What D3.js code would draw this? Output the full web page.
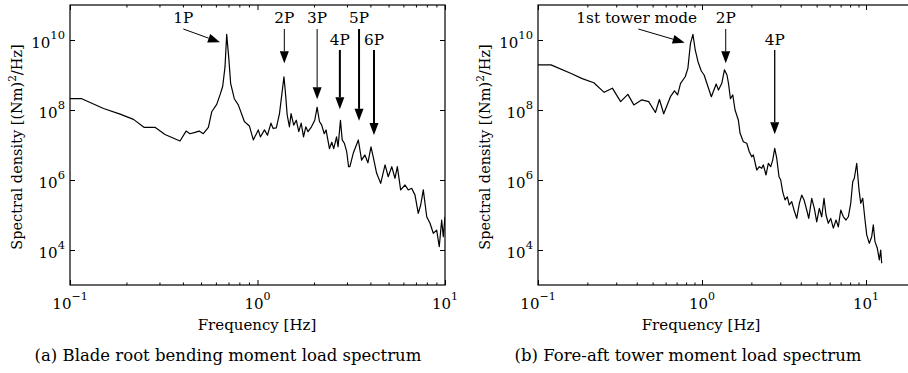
<!DOCTYPE html>
<html><head><meta charset="utf-8">
<script src="https://cdn.jsdelivr.net/npm/d3@7"></script>
<style>
html,body{margin:0;padding:0;background:#fff;}
svg{display:block;font-family:"DejaVu Serif",serif;}
</style></head><body>
<svg id="chart" width="908" height="373"></svg>
<script>
// ---------- data ----------
const bladeFreq = [0.1,0.1155,0.151,0.185,0.218,0.248,0.284,0.321,0.386,0.416,0.436,0.464,0.488,0.514,0.547,0.57,0.606,0.631,0.652,0.671,0.685,0.702,0.719,0.752,0.79,0.851,0.905,0.95,1.01,1.036,1.09,1.13,1.18,1.21,1.26,1.31,1.384,1.41,1.44,1.48,1.51,1.56,1.61,1.66,1.71,1.76,1.81,1.86,1.94,2.02,2.08,2.14,2.20,2.27,2.32,2.42,2.49,2.55,2.64,2.69,2.77,2.83,2.91,2.99,3.06,3.11,3.24,3.45,3.59,3.74,3.88,4.03,4.13,4.32,4.54,4.79,4.98,5.20,5.41,5.57,5.80,6.12,6.37,6.64,6.92,7.20,7.42,7.66,7.99,8.32,8.66,9.03,9.32,9.60,9.79,10.0];
const bladePSD = [2.1e8,2.1e8,1.1e8,7.6e7,5.4e7,3.2e7,3.2e7,2.0e7,1.3e7,2.5e7,2.1e7,2.3e7,2.5e7,2.1e7,3.2e7,8.9e7,1.45e8,2.7e8,4.7e8,1.7e9,1.45e10,3.3e9,5.8e8,2.1e8,1.4e8,4.7e7,3.5e7,1.4e7,2.7e7,1.7e7,2.7e7,1.9e7,4.2e7,3.0e7,3.1e7,7.9e7,8.9e8,3.0e8,7.2e7,3.3e7,7.9e7,3.7e7,5.1e7,2.4e7,4.2e7,1.7e7,3.3e7,2.4e7,3.3e7,5.1e7,1.2e8,4.7e7,3.7e7,2.1e7,2.7e7,7.9e6,1.2e7,7.9e6,1.7e7,8.9e6,5.1e7,1.4e7,1.1e7,6.5e6,2.4e6,2.4e6,5.8e6,1.39e7,3.7e6,5.2e6,3.1e6,8.8e6,4.9e6,1.55e6,8.0e5,2.7e6,1.24e6,2.4e6,1.12e6,2.4e6,5.2e5,7.2e5,5.2e5,5.8e5,3.7e5,1.12e5,1.93e5,5.2e5,8.9e4,5.8e4,3.0e4,3.7e4,1.24e4,7.2e4,2.4e4,8.9e4];

const towerFreq = [0.1,0.12,0.158,0.186,0.219,0.253,0.284,0.319,0.353,0.384,0.43,0.473,0.52,0.55,0.584,0.642,0.679,0.71,0.74,0.79,0.82,0.85,0.88,0.91,0.945,0.99,1.03,1.08,1.14,1.22,1.26,1.32,1.37,1.42,1.45,1.49,1.54,1.59,1.665,1.705,1.786,1.874,1.943,2.009,2.055,2.156,2.236,2.312,2.365,2.456,2.537,2.624,2.698,2.775,2.854,2.948,3.019,3.105,3.207,3.312,3.406,3.524,3.639,3.780,3.921,4.055,4.188,4.349,4.473,4.666,4.840,5.005,5.190,5.368,5.544,5.702,5.889,6.092,6.318,6.562,6.779,7.012,7.273,7.551,7.800,8.067,8.297,8.486,8.776,9.064,9.284,9.548,9.86,10.1,10.47,10.83,11.08,11.34,11.72,12.05,12.29,12.46];
const towerPSD = [1.95e9,1.95e9,1.12e9,7.9e8,6.0e8,3.2e8,4.2e8,1.74e8,2.8e8,1.4e8,1.95e8,1.74e8,8.5e7,2.0e8,7.8e7,2.4e8,3.5e8,2.7e8,5.8e8,8.9e8,1.55e9,7.9e9,1.45e10,5.1e9,2.4e9,1.3e9,1.0e9,5.1e8,2.4e8,5.5e8,3.7e8,5.8e8,1.4e9,1.0e9,5.8e8,2.1e8,2.7e8,1.0e8,5.2e7,2.2e7,1.24e7,1.12e7,6.4e6,4.6e6,5.2e6,1.93e6,2.4e6,2.16e6,2.7e6,1.39e6,3.0e6,2.4e6,3.7e6,8.0e6,4.2e6,1.24e6,1.0e6,4.6e5,2.7e5,3.3e5,1.93e5,2.4e5,1.39e5,8.0e4,2.16e5,3.7e5,2.7e5,1.39e5,8.0e4,3.0e5,1.55e5,6.4e4,1.55e5,8.9e4,3.0e5,1.0e5,5.8e4,8.0e4,4.2e4,7.2e4,4.6e4,1.39e5,8.9e4,7.2e4,8.9e4,2.16e5,8.9e5,1.12e6,3.0e6,5.2e5,2.16e5,3.0e5,7.2e4,2.7e4,1.55e4,2.4e4,5.2e4,1.73e4,1.12e4,5.2e3,1.0e4,4.2e3];

const xTickValues = [0.1, 1, 10];
const xTickExponents = ["\u22121", "0", "1"];
const yTickValues = [1e4, 1e6, 1e8, 1e10];
const yTickExponents = ["4", "6", "8", "10"];

// annotations (data units)
const bladeAnnoLabels = ["1P", "2P", "3P", "4P", "5P", "6P"];
const bladeAnnoLabelF = [0.402, 1.39, 2.08, 2.75, 3.48, 4.18];
const bladeAnnoLabelP = [3.16e10, 3.16e10, 3.16e10, 7.2e9, 3.16e10, 7.2e9];
const bladeAnnoTailP = [2.06e10, 2.06e10, 2.06e10, 5.2e9, 2.06e10, 5.2e9];
const bladeAnnoTipF = [0.631, 1.39, 2.08, 2.75, 3.48, 4.18];
const bladeAnnoTipP = [8.6e9, 2.16e9, 2.02e8, 1.05e8, 4.9e7, 1.93e7];
const bladeAnnoWidth = [1, 1, 1, 2, 2, 2];

const towerAnnoLabels = ["1st tower mode", "2P", "4P"];
const towerAnnoLabelF = [0.4, 1.395, 2.775];
const towerAnnoLabelP = [3.16e10, 3.16e10, 7.2e9];
const towerAnnoTailP = [2.06e10, 2.06e10, 5.2e9];
const towerAnnoTailF = [0.409, 1.395, 2.775];
const towerAnnoTipF = [0.784, 1.395, 2.775];
const towerAnnoTipP = [8.4e9, 2.16e9, 2.02e7];
const towerAnnoWidth = [1, 1, 1.3];

const captions = ["(a) Blade root bending moment load spectrum", "(b) Fore-aft tower moment load spectrum"];

// ---------- drawing ----------
const svg = d3.select("#chart");
const yDomain = [1e3, 1e11];

function minorTicks(domain) {
  const out = [];
  for (let dec = 0.1; dec < domain[1]; dec *= 10) {
    for (let k = 2; k <= 9; k++) {
      const v = +(k * dec).toPrecision(3);
      if (v > domain[0] && v < domain[1]) out.push(v);
    }
  }
  return out;
}

function drawPanel(cfg) {
  const g = svg.append("g");
  const x = d3.scaleLog().domain(cfg.xDomain).range(cfg.xRange);
  const y = d3.scaleLog().domain(yDomain).range([285, 5]);
  const [x0, x1] = cfg.xRange;
  const [yb, yt] = y.range();

  const clipId = "clip" + cfg.id;
  g.append("clipPath").attr("id", clipId).append("rect")
    .attr("x", x0).attr("y", yt).attr("width", x1 - x0).attr("height", yb - yt);

  const strip = sel => { sel.select(".domain").remove(); sel.selectAll("line").attr("stroke", "#000").attr("stroke-width", 1); };
  const minors = minorTicks(cfg.xDomain);
  g.append("g").attr("transform", `translate(0,${yb})`)
    .call(d3.axisBottom(x).tickValues(xTickValues).tickSize(-5).tickFormat("")).call(strip);
  g.append("g").attr("transform", `translate(0,${yb})`)
    .call(d3.axisBottom(x).tickValues(minors).tickSize(-2.5).tickFormat("")).call(strip);
  g.append("g").attr("transform", `translate(0,${yt})`)
    .call(d3.axisTop(x).tickValues(xTickValues).tickSize(-5).tickFormat("")).call(strip);
  g.append("g").attr("transform", `translate(0,${yt})`)
    .call(d3.axisTop(x).tickValues(minors).tickSize(-2.5).tickFormat("")).call(strip);
  g.append("g").attr("transform", `translate(${x0},0)`)
    .call(d3.axisLeft(y).tickValues(yTickValues).tickSize(-5).tickFormat("")).call(strip);
  g.append("g").attr("transform", `translate(${x1},0)`)
    .call(d3.axisRight(y).tickValues(yTickValues).tickSize(-5).tickFormat("")).call(strip);

  g.append("rect").attr("x", x0).attr("y", yt).attr("width", x1 - x0).attr("height", yb - yt)
    .attr("fill", "none").attr("stroke", "#000").attr("stroke-width", 1.2);

  xTickValues.forEach((v, i) => {
    const t = g.append("text").attr("x", x(v)).attr("y", yb + 23.5).attr("text-anchor", "middle")
      .attr("font-size", 15).attr("fill", "#000");
    t.append("tspan").text("10");
    t.append("tspan").attr("dy", -8.5).attr("font-size", 11).text(xTickExponents[i]);
  });
  yTickValues.forEach((v, i) => {
    const t = g.append("text").attr("x", x0 - 5).attr("y", y(v) + 8).attr("text-anchor", "end")
      .attr("font-size", 15).attr("fill", "#000");
    t.append("tspan").text("10");
    t.append("tspan").attr("dy", -9).attr("font-size", 11.5).text(yTickExponents[i]);
  });

  g.append("text").attr("x", cfg.titleX).attr("y", 330).attr("text-anchor", "middle")
    .attr("font-size", 15).text("Frequency [Hz]");
  const yl = g.append("text").attr("transform", `translate(${x0 - 48},${(yb + yt) / 2 + 2}) rotate(-90)`)
    .attr("text-anchor", "middle").attr("font-size", 14.5);
  yl.append("tspan").text("Spectral density [(Nm)");
  yl.append("tspan").attr("dy", -6).attr("font-size", 10.5).text("2");
  yl.append("tspan").attr("dy", 6).text("/Hz]");

  g.append("text").attr("x", cfg.captionX).attr("y", 361).attr("text-anchor", "middle")
    .attr("font-size", 16.5).text(cfg.caption);

  const pts = cfg.freq.map((f, i) => [f, cfg.psd[i]]);
  g.append("path").datum(pts).attr("clip-path", `url(#${clipId})`)
    .attr("fill", "none").attr("stroke", "#000").attr("stroke-width", 1.2).attr("stroke-linejoin", "round")
    .attr("d", d3.line().x(d => x(d[0])).y(d => y(d[1])));

  cfg.anno.labels.forEach((lab, i) => {
    const lx = x(cfg.anno.labelF[i]), ly = y(cfg.anno.labelP[i]);
    g.append("text").attr("x", lx).attr("y", ly).attr("text-anchor", "middle").attr("font-size", 15.3).text(lab);
    const tx = x(cfg.anno.tailF[i]), ty = y(cfg.anno.tailP[i]);
    const hx = x(cfg.anno.tipF[i]), hy = y(cfg.anno.tipP[i]);
    const dx = hx - tx, dy = hy - ty, L = Math.hypot(dx, dy), ux = dx / L, uy = dy / L;
    const hl = 12, hw = 4.5;
    const bx = hx - ux * hl, by = hy - uy * hl;
    g.append("line").attr("x1", tx).attr("y1", ty).attr("x2", bx).attr("y2", by)
      .attr("stroke", "#000").attr("stroke-width", cfg.anno.width[i]);
    g.append("path").attr("fill", "#000")
      .attr("d", `M${hx},${hy}L${bx - uy * hw},${by + ux * hw}L${bx + uy * hw},${by - ux * hw}Z`);
  });
}

drawPanel({
  id: "a", xDomain: [0.1, 10], xRange: [70, 445], titleX: 257, captionX: 228,
  freq: bladeFreq, psd: bladePSD, caption: captions[0],
  anno: { labels: bladeAnnoLabels, labelF: bladeAnnoLabelF, labelP: bladeAnnoLabelP,
          tailF: bladeAnnoLabelF, tailP: bladeAnnoTailP, tipF: bladeAnnoTipF, tipP: bladeAnnoTipP, width: bladeAnnoWidth }
});
drawPanel({
  id: "b", xDomain: [0.1, 20], xRange: [538, 915.4], titleX: 701, captionX: 688,
  freq: towerFreq, psd: towerPSD, caption: captions[1],
  anno: { labels: towerAnnoLabels, labelF: towerAnnoLabelF, labelP: towerAnnoLabelP,
          tailF: towerAnnoTailF, tailP: towerAnnoTailP, tipF: towerAnnoTipF, tipP: towerAnnoTipP, width: towerAnnoWidth }
});
</script>
</body></html>
